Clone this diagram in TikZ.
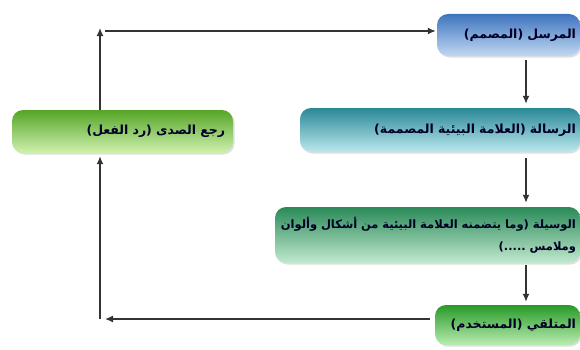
\documentclass[tikz,border=0pt]{standalone}
\usepackage{fontspec}
\newfontfamily\arabicfont[Script=Arabic]{DejaVu Sans}
\TeXXeTstate=1
\usetikzlibrary{arrows.meta,shadows}

\definecolor{sendtop}{HTML}{3E74BE}
\definecolor{sendbot}{HTML}{C2D8F2}
\definecolor{msgtop}{HTML}{2A8896}
\definecolor{msgbot}{HTML}{BCE8EE}
\definecolor{medtop}{HTML}{2A8A58}
\definecolor{medbot}{HTML}{C2E9D0}
\definecolor{rectop}{HTML}{279A27}
\definecolor{recbot}{HTML}{BAEDB2}
\definecolor{fbtop}{HTML}{55A526}
\definecolor{fbbot}{HTML}{D0F1B0}
\definecolor{inkline}{HTML}{333333}

\tikzset{
  stagebox/.style={rounded corners=11pt, inner xsep=4pt, inner ysep=2pt,
    align=right, font=\arabicfont\bfseries\fontsize{12.5}{20}\selectfont,
    text=black!85!blue, drop shadow={opacity=0.25,shadow xshift=1.5pt,shadow yshift=-1.5pt}},
  flow/.style={draw=inkline, line width=1.4pt, -{Latex[length=8pt,width=7pt]}}
}

\begin{document}
\begin{tikzpicture}[x=1pt,y=1pt]
\useasboundingbox (0,0) rectangle (580,349);

% the five stages
\node[stagebox, top color=sendtop, bottom color=sendbot,
  minimum width=143, minimum height=42, text width=135] (sender) at (508.5,314)
  {\beginR المرسل (المصمم)\endR};
\node[stagebox, top color=msgtop, bottom color=msgbot,
  minimum width=280, minimum height=44, text width=272] (message) at (440,219)
  {\beginR الرسالة (العلامة البيئية المصممة)\endR};
\node[stagebox, top color=medtop, bottom color=medbot,
  minimum width=305, minimum height=56, text width=297,
  font=\arabicfont\bfseries\fontsize{11.5}{22}\selectfont] (medium) at (427.5,114)
  {\beginR الوسيلة (وما يتضمنه العلامة البيئية من أشكال وألوان\endR\\
   \beginR وملامس .....)\endR};
\node[stagebox, top color=rectop, bottom color=recbot,
  minimum width=145, minimum height=40, text width=137] (receiver) at (507.5,24)
  {\beginR المتلقي (المستخدم)\endR};
\node[stagebox, top color=fbtop, bottom color=fbbot,
  minimum width=221, minimum height=43, text width=205] (feedback) at (122.5,217.5)
  {\beginR رجع الصدى (رد الفعل)\endR};

% corners of the feedback loop
\coordinate (loopup) at (100,321);
\coordinate (loopdown) at (100,30);
\coordinate (spine) at (526,0);

\draw[flow] (sender.south -| spine) ++(0,-4) -- ([yshift=4]message.north -| spine);
\draw[flow] (message.south -| spine) ++(0,-6) -- ([yshift=4]medium.north -| spine);
\draw[flow] (medium.south -| spine) ++(0,-2) -- ([yshift=3]receiver.north -| spine);

\draw[flow] (receiver.west |- loopdown) ++(-5,0) -- ([xshift=5]loopdown);
\draw[flow] (loopdown) -- ([yshift=-3]feedback.south -| loopdown);
\draw[flow] (feedback.north -| loopup) -- (loopup);
\draw[flow] ([xshift=5,yshift=-3]loopup) -- ([xshift=-1]sender.west |- 0,318);
\end{tikzpicture}
\end{document}
